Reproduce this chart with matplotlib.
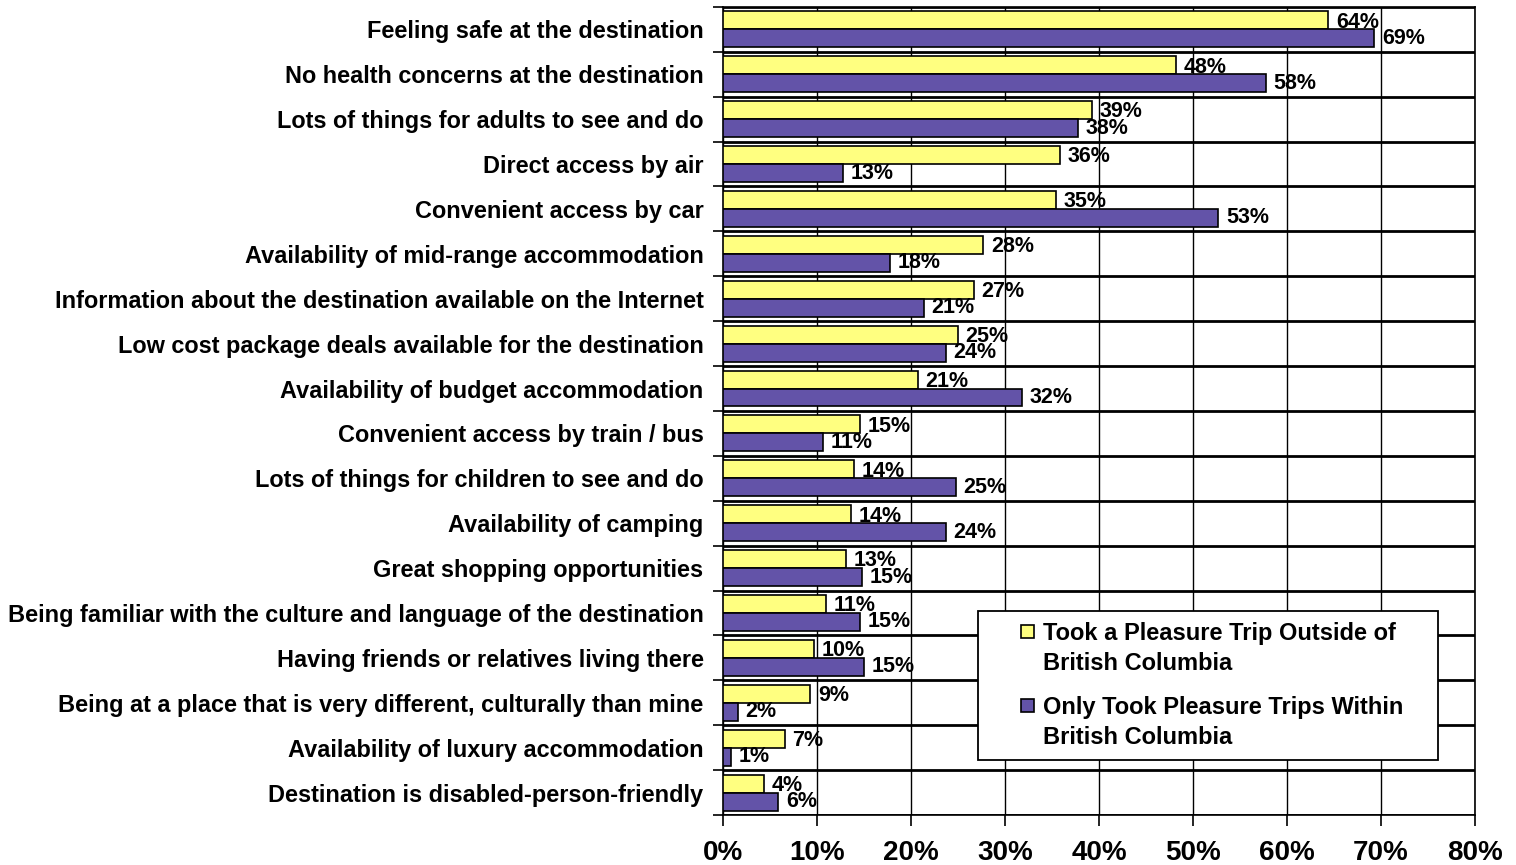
import matplotlib
matplotlib.use("Agg")

import matplotlib.pyplot as plt
import numpy as np
from matplotlib.patches import Rectangle
from matplotlib.ticker import FuncFormatter, MultipleLocator

categories = [
    "Feeling safe at the destination",
    "No health concerns at the destination",
    "Lots of things for adults to see and do",
    "Direct access by air",
    "Convenient access by car",
    "Availability of mid-range accommodation",
    "Information about the destination available on the Internet",
    "Low cost package deals available for the destination",
    "Availability of budget accommodation",
    "Convenient access by train / bus",
    "Lots of things for children to see and do",
    "Availability of camping",
    "Great shopping opportunities",
    "Being familiar with the culture and language of the destination",
    "Having friends or relatives living there",
    "Being at a place that is very different, culturally than mine",
    "Availability of luxury accommodation",
    "Destination is disabled-person-friendly",
]
outside_bc = [64.4, 48.2, 39.3, 35.9, 35.4, 27.7, 26.7, 25.0, 20.7, 14.6,
              13.9, 13.6, 13.1, 11.0, 9.7, 9.3, 6.6, 4.4]
within_bc = [69.3, 57.8, 37.8, 12.8, 52.7, 17.8, 21.4, 23.7, 31.8, 10.6,
             24.8, 23.7, 14.8, 14.6, 15.0, 1.6, 0.9, 5.9]
series_names = ["Took a Pleasure Trip Outside of\nBritish Columbia",
                "Only Took Pleasure Trips Within\nBritish Columbia"]

YELLOW = "#FFFF80"
PURPLE = "#6353A8"

plt.rcParams["font.family"] = ["Liberation Sans", "DejaVu Sans"]
plt.rcParams["font.weight"] = "bold"

fig = plt.figure(figsize=(15.16, 8.65), dpi=100)
ax = fig.add_axes([0.4769, 0.0578, 0.4960, 0.9342])

n = len(categories)
y = np.arange(n)
h = 0.4
ax.barh(y - h / 2, outside_bc, height=h, color=YELLOW, edgecolor="black",
        linewidth=1.2, zorder=3)
ax.barh(y + h / 2, within_bc, height=h, color=PURPLE, edgecolor="black",
        linewidth=1.2, zorder=3)

for yi, v in zip(y, outside_bc):
    ax.text(v + 0.8, yi - h / 2 + 0.04, f"{v:.0f}%", va="center", ha="left",
            fontsize=15.5, fontweight="bold", zorder=5)
for yi, v in zip(y, within_bc):
    ax.text(v + 0.8, yi + h / 2 + 0.0, f"{v:.0f}%", va="center", ha="left",
            fontsize=15.5, fontweight="bold", zorder=5)

ax.set_xlim(0, 80)
ax.set_ylim(n - 0.5, -0.5)
ax.xaxis.set_major_locator(MultipleLocator(10))
ax.xaxis.set_major_formatter(FuncFormatter(lambda v, p: f"{v:.0f}%"))

# category boundaries as gridlines, labels centred between them
ax.set_yticks(np.arange(n + 1) - 0.5)
ax.set_yticklabels([])
ax.set_yticks(y, minor=True)
ax.set_yticklabels(categories, minor=True, fontsize=16.9, fontweight="bold")
ax.tick_params(axis="y", which="minor", length=0, pad=14)
ax.tick_params(axis="y", which="major", length=7, width=1.2)
ax.tick_params(axis="x", length=8, width=1.2, pad=10)
for lab in ax.get_xticklabels():
    lab.set_fontweight("bold")
    lab.set_fontfamily(["Liberation Sans Narrow", "Liberation Sans"])
    lab.set_fontsize(20)

ax.grid(axis="y", which="major", color="black", linewidth=2.0, zorder=1)
ax.grid(axis="x", which="major", color="black", linewidth=1.0, zorder=1)
for sp in ax.spines.values():
    sp.set_linewidth(1.2)


# legend box drawn by hand so its padding matches the original
def px(x, yy):
    return ((x - 723) / 752, (815 - yy) / 808)


x0, y0 = px(978, 760)
x1, y1 = px(1438, 611)
ax.add_patch(Rectangle((x0, y0), x1 - x0, y1 - y0, transform=ax.transAxes,
                       facecolor="white", edgecolor="black", linewidth=1.3,
                       zorder=10, clip_on=False))
for name, col, top in zip(series_names, [YELLOW, PURPLE], [625, 699]):
    mx, my = px(1021, top + 13)
    mx2, my2 = px(1034, top)
    ax.add_patch(Rectangle((mx, my), mx2 - mx, my2 - my, transform=ax.transAxes,
                           facecolor=col, edgecolor="black", linewidth=1.2,
                           zorder=11, clip_on=False))
    tx, ty = px(1043, top - 3)
    ax.text(tx, ty, name, transform=ax.transAxes, ha="left", va="top",
            fontsize=17, fontweight="bold", linespacing=1.38, zorder=12)

fig.savefig("out.png", dpi=100)
